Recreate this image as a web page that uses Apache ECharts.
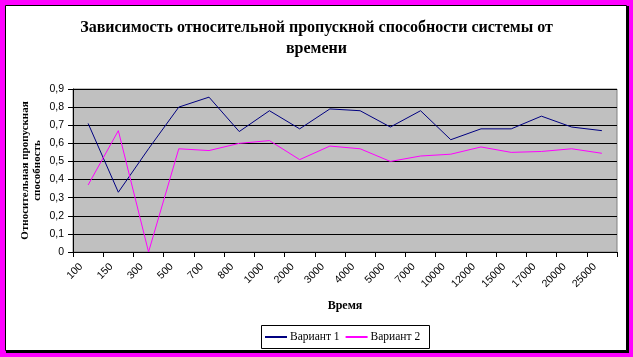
<!DOCTYPE html>
<html><head><meta charset="utf-8">
<script src="https://cdn.jsdelivr.net/npm/echarts@6/dist/echarts.min.js"></script>
<style>html,body{margin:0;padding:0;background:#FF00FF;}#c{width:633px;height:357px;}</style>
</head><body><div id="c"></div>
<script>
const categories = ['100','150','300','500','700','800','1000','2000','3000','4000','5000','7000','10000','12000','15000','17000','20000','25000'];
const variant1 = [0.71,0.33,0.57,0.80,0.855,0.665,0.78,0.68,0.79,0.78,0.69,0.78,0.62,0.68,0.68,0.75,0.69,0.67];
const variant2 = [0.37,0.67,0.0,0.57,0.56,0.60,0.615,0.51,0.585,0.57,0.50,0.53,0.54,0.58,0.55,0.555,0.57,0.545];
const seriesNames = ['Вариант 1','Вариант 2'];
const titleText = 'Зависимость относительной пропускной способности системы от\nвремени';
const yTitle = 'Относительная пропускная\nспособность';
const xTitle = 'Время';

const chart = echarts.init(document.getElementById('c'), null, {renderer:'canvas'});
const serif = '"Liberation Serif","Times New Roman",serif';
const sans = '"Liberation Sans",Arial,sans-serif';
chart.setOption({
  backgroundColor: '#FF00FF',
  animation: false,
  graphic: [
    {type:'rect', z:-10, shape:{x:6,y:6,width:623,height:347}, style:{fill:'#000'}},
    {type:'rect', z:-9, shape:{x:5.5,y:5.5,width:621,height:345}, style:{fill:'#fff', stroke:'#000', lineWidth:1}},
    {type:'rect', z:-8, shape:{x:261.5,y:325.5,width:168,height:23}, style:{fill:'#fff', stroke:'#000', lineWidth:1}}
  ],
  title: {
    text: titleText, left: 'center', top: 12,
    textStyle: {fontFamily: serif, fontWeight: 'bold', fontSize: 16, lineHeight: 21, color:'#000'}
  },
  legend: {
    data: seriesNames, left: 265, top: 331, padding: 0, itemGap: 6, itemWidth: 22, itemHeight: 2,
    icon: 'rect',
    textStyle: {fontFamily: serif, fontSize: 11.5, color:'#000', padding:[0,0,0,-2]}
  },
  grid: {left:73, top:89, width:544, height:163, show:true, backgroundColor:'#C0C0C0', borderColor:'#808080', borderWidth:1},
  xAxis: {
    type:'category', data: categories, boundaryGap: true,
    name: xTitle, nameLocation:'middle', nameGap: 48, nameMoveOverlap: false,
    nameTextStyle:{fontFamily: serif, fontWeight:'bold', fontSize: 12, color:'#000'},
    axisLine:{lineStyle:{color:'#000', width:1}},
    axisTick:{show:true, length:5, lineStyle:{color:'#000'}, interval:0},
    axisLabel:{interval:0, rotate:45, fontFamily: sans, fontSize: 10.5, color:'#000', margin:6, padding:[0,10,0,0]}
  },
  yAxis: {
    type:'value', min:0, max:0.9, interval:0.1,
    name: yTitle, nameLocation:'middle', nameRotate: 90, nameGap: 30, nameMoveOverlap: false,
    nameTextStyle:{fontFamily: serif, fontWeight:'bold', fontSize: 11, lineHeight: 12, color:'#000', align:'center'},
    axisLine:{show:true, lineStyle:{color:'#000', width:1}},
    axisTick:{show:true, length:5, lineStyle:{color:'#000'}},
    axisLabel:{fontFamily: sans, fontSize: 10.5, color:'#000', margin:9, formatter: v => String(Math.round(v*10)/10).replace('.', ',')},
    splitLine:{show:true, lineStyle:{color:'#000', width:1}}
  },
  series: [
    {name: seriesNames[0], type:'line', data: variant1, symbol:'none', lineStyle:{color:'#000080', width:1}, itemStyle:{color:'#000080'}},
    {name: seriesNames[1], type:'line', data: variant2, symbol:'none', lineStyle:{color:'#FF00FF', width:1}, itemStyle:{color:'#FF00FF'}}
  ]
});
</script></body></html>
